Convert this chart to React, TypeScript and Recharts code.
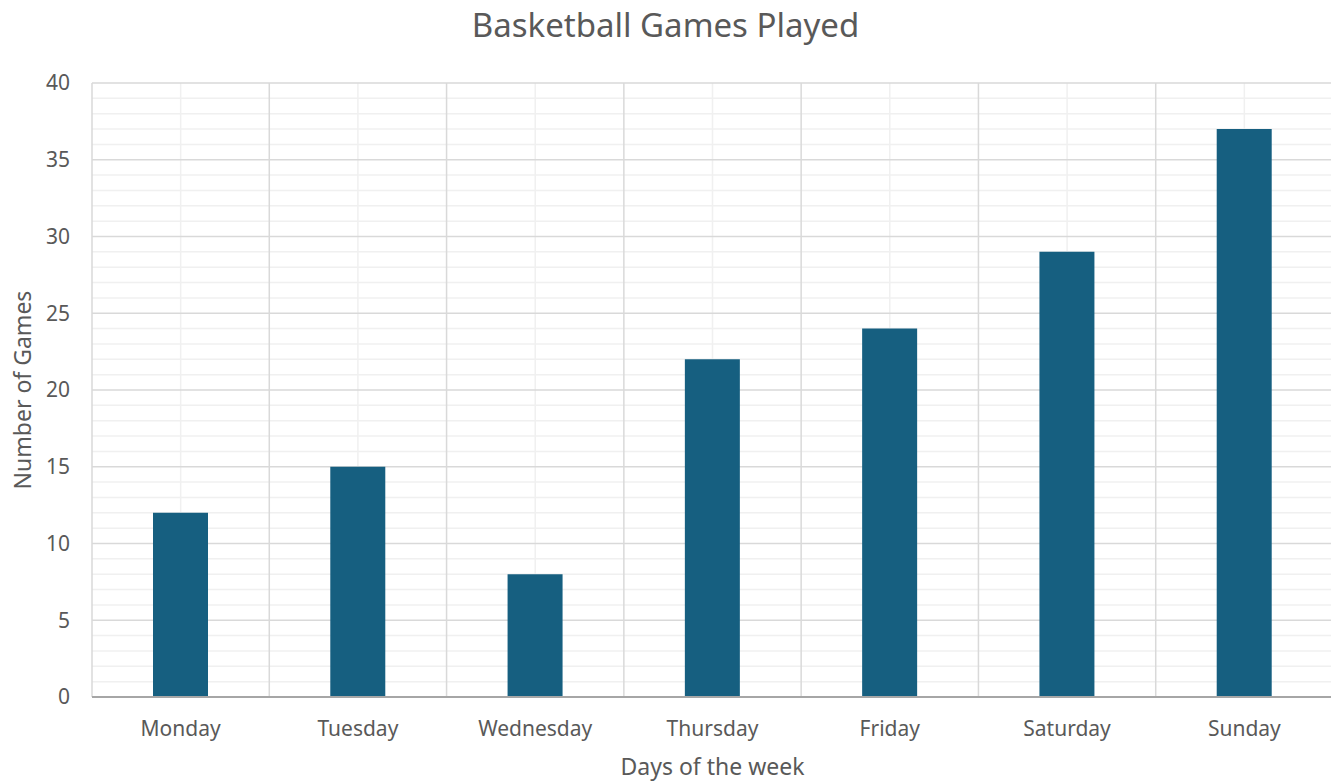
import { BarChart, Bar, XAxis, YAxis, CartesianGrid } from 'recharts';

const days = ['Monday', 'Tuesday', 'Wednesday', 'Thursday', 'Friday', 'Saturday', 'Sunday'];
const games = [12, 15, 8, 22, 24, 29, 37];
const yTicks = [0, 5, 10, 15, 20, 25, 30, 35, 40];
const minorY = [1, 2, 3, 4, 6, 7, 8, 9, 11, 12, 13, 14, 16, 17, 18, 19, 21, 22, 23, 24, 26, 27, 28, 29, 31, 32, 33, 34, 36, 37, 38, 39];

const data = days.map((day, i) => ({ day, games: games[i] }));

const font = '"Noto Sans", "Open Sans", sans-serif';
const textColor = '#595959';

// category boundaries (major) and category centres (minor) on the band axis
const bandLines = (centres: boolean) => ({ offset }: any) => {
  const step = offset.width / days.length;
  const n = centres ? days.length : days.length + 1;
  return Array.from({ length: n }, (_, i) => offset.left + (centres ? i + 0.5 : i) * step);
};

export default function App() {
  return (
    <div style={{ position: 'relative', width: 1331, height: 775, fontFamily: font }}>
      <div
        style={{
          position: 'absolute',
          top: -1,
          left: 0,
          width: 1315,
          textAlign: 'center',
          fontSize: 33,
          color: textColor,
          lineHeight: '36px',
        }}
      >
        Basketball Games Played
      </div>
      <BarChart
        width={1331}
        height={775}
        data={data}
        margin={{ top: 75, right: 6, bottom: 0, left: 0 }}
      >
        <CartesianGrid horizontalValues={minorY} verticalCoordinatesGenerator={bandLines(true)} stroke="#f0f0f0" strokeWidth={1.5} />
        <CartesianGrid horizontalValues={yTicks} verticalCoordinatesGenerator={bandLines(false)} stroke="#d9d9d9" strokeWidth={1.5} />
        <XAxis
          dataKey="day"
          height={86}
          tickLine={false}
          axisLine={{ stroke: '#a6a6a6', strokeWidth: 2 }}
          tick={{ fill: textColor, fontSize: 21, fontFamily: font }}
          tickMargin={18}
          label={{ value: 'Days of the week', position: 'insideBottom', offset: 8, fill: textColor, fontSize: 23, fontFamily: font }}
        />
        <YAxis
          domain={[0, 40]}
          ticks={yTicks}
          interval={0}
          tickLine={false}
          axisLine={false}
          width={84}
          tickMargin={16}
          tick={{ fill: textColor, fontSize: 21, fontFamily: font }}
          label={{ value: 'Number of Games', angle: -90, position: 'insideLeft', offset: 15, textAnchor: 'middle', fill: textColor, fontSize: 23, fontFamily: font }}
        />
        <Bar dataKey="games" fill="#165f80" barSize={55} isAnimationActive={false} />
      </BarChart>
    </div>
  );
}
